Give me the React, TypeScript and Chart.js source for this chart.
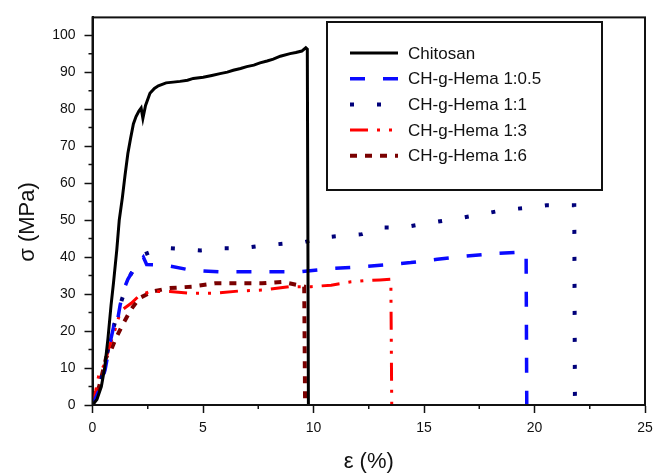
import React, { useEffect, useRef } from 'react';
import { Chart, registerables } from 'chart.js';

Chart.register(...registerables);

const seriesNames = ['Chitosan', 'CH-g-Hema 1:0.5', 'CH-g-Hema 1:1', 'CH-g-Hema 1:3', 'CH-g-Hema 1:6'];

const chitosanX = [0, 0.2, 0.4, 0.55, 0.7, 0.84, 0.95, 1.1, 1.21, 1.35, 1.47, 1.6, 1.72, 1.85, 1.97, 2.1, 2.2, 2.28, 2.4, 2.6, 2.8, 2.98, 3.33, 3.65, 3.96, 4.3, 4.56, 5.01, 5.4, 5.77, 6.1, 6.37, 6.7, 6.98, 7.3, 7.58, 7.9, 8.18, 8.5, 8.94, 9.2, 9.47, 9.65, 9.72, 9.77];
const chitosanY = [0, 1.5, 5, 10, 18, 27, 33, 42, 50, 56, 62, 68, 72, 76, 78, 79.5, 80.3, 77.5, 81, 84.3, 85.6, 86.3, 87.1, 87.3, 87.5, 87.8, 88.3, 88.6, 89.1, 89.6, 90.0, 90.5, 91.0, 91.5, 91.9, 92.5, 93.0, 93.5, 94.3, 95.0, 95.3, 95.7, 96.6, 96.2, 0];

const hema05X = [0, 0.3, 0.57, 0.8, 0.95, 1.05, 1.25, 1.4, 1.6, 1.85, 2.1, 2.3, 2.45, 3.3, 4.5, 5.7, 6.9, 8.1, 9.3, 10.8, 12.0, 13.3, 14.4, 15.6, 16.8, 18.1, 19.3, 19.62, 19.65];
const hema05Y = [0, 4, 9.5, 17, 21, 20, 27, 31, 34, 36.5, 38.5, 40, 38, 37.8, 36.4, 36, 36, 36, 36, 36.9, 37.3, 37.9, 38.5, 39.4, 40.2, 40.9, 41.3, 41.3, 0];

const hema1X = [0, 0.4, 0.7, 0.95, 1.3, 1.7, 2.0, 2.2, 3.1, 4.0, 4.9, 5.9, 6.8, 7.7, 8.6, 9.55, 10.45, 11.3, 12.2, 13.15, 14.05, 14.9, 15.85, 16.8, 17.7, 18.6, 19.6, 20.55, 21.5, 21.8, 21.83];
const hema1Y = [0, 7, 15, 21, 28, 35, 38, 40.4, 42.5, 42.2, 41.8, 42.4, 42.4, 43.1, 43.6, 44, 45.3, 45.8, 46.2, 48, 48, 48.9, 49.8, 50.7, 51.7, 52.7, 53.3, 54, 54, 54, 0];

const hema3X = [0, 0.15, 0.3, 0.55, 0.75, 1.0, 1.2, 1.4, 1.75, 2.1, 2.6, 3.5, 4.5, 5.5, 6.6, 7.7, 8.9, 9.9, 10.8, 11.7, 12.3, 13.0, 13.5, 13.54];
const hema3Y = [0, 4, 8.5, 11, 15.6, 20, 24, 26, 27.5, 29.5, 30.7, 30.7, 30.2, 30.2, 30.8, 31.1, 32, 32, 32.4, 33.3, 33.6, 33.8, 34, 0];

const hema6X = [0, 0.3, 0.62, 0.85, 1.07, 1.37, 1.74, 2.12, 2.72, 3.47, 4.5, 5.54, 6.62, 7.67, 8.57, 9.32, 9.58, 9.62];
const hema6Y = [0, 5, 12.9, 15, 18.2, 21.8, 25.8, 28.9, 30.7, 31.6, 32, 32.9, 32.9, 32.9, 33.3, 32.4, 32, 0];

const xTitle = 'ε (%)';
const yTitle = 'σ (MPa)';
const xMinorTicks = [2.5, 7.5, 12.5, 17.5, 22.5];
const yMinorTicks = [5, 15, 25, 35, 45, 55, 65, 75, 85, 95];

const FONT = "Arial, 'Liberation Sans', sans-serif";

const toPoints = (xs: number[], ys: number[]) => xs.map((x, i) => ({ x, y: ys[i] }));

const decorPlugin = {
  id: 'decor',
  afterDraw(chart: any) {
    const { ctx, chartArea, scales } = chart;
    const xs = scales.x;
    const ys = scales.y;
    ctx.save();
    // frame
    ctx.strokeStyle = '#111';
    ctx.lineWidth = 2;
    ctx.setLineDash([]);
    ctx.strokeRect(chartArea.left, chartArea.top, chartArea.right - chartArea.left, chartArea.bottom - chartArea.top);
    // minor ticks
    ctx.lineWidth = 1.5;
    ctx.beginPath();
    xMinorTicks.forEach((v) => {
      const p = xs.getPixelForValue(v);
      ctx.moveTo(p, chartArea.bottom);
      ctx.lineTo(p, chartArea.bottom + 4);
    });
    yMinorTicks.forEach((v) => {
      const p = ys.getPixelForValue(v);
      ctx.moveTo(chartArea.left - 4, p);
      ctx.lineTo(chartArea.left, p);
    });
    ctx.stroke();
    // y title
    ctx.fillStyle = '#111';
    ctx.font = `22px ${FONT}`;
    ctx.textAlign = 'center';
    ctx.textBaseline = 'middle';
    ctx.translate(28, 222);
    ctx.rotate(-Math.PI / 2);
    ctx.fillText(yTitle, 0, 0);
    ctx.restore();

    // legend
    ctx.save();
    const bx = 327, by = 22, bw = 275, bh = 168;
    ctx.fillStyle = '#fff';
    ctx.fillRect(bx, by, bw, bh);
    ctx.strokeStyle = '#111';
    ctx.lineWidth = 2;
    ctx.strokeRect(bx, by, bw, bh);
    ctx.font = `17px ${FONT}`;
    ctx.textAlign = 'left';
    ctx.textBaseline = 'middle';
    chart.data.datasets.forEach((ds: any, i: number) => {
      const y = 53 + i * 25.7;
      ctx.strokeStyle = ds.borderColor;
      ctx.lineWidth = ds.borderWidth;
      ctx.setLineDash(ds.borderDash || []);
      ctx.lineCap = 'butt';
      ctx.beginPath();
      ctx.moveTo(350, y);
      ctx.lineTo(398, y);
      ctx.stroke();
      ctx.setLineDash([]);
      ctx.fillStyle = '#111';
      ctx.fillText(ds.label, 408, y + 1);
    });
    ctx.restore();
  },
};

export default function App() {
  const ref = useRef<HTMLCanvasElement>(null);
  useEffect(() => {
    document.body.style.margin = '0';
    const canvas = ref.current!;
    const chart = new Chart(canvas, {
      type: 'line',
      data: {
        datasets: [
          { label: seriesNames[0], data: toPoints(chitosanX, chitosanY), borderColor: '#000000', borderWidth: 3, borderDash: [] },
          { label: seriesNames[1], data: toPoints(hema05X, hema05Y), borderColor: '#0a0aff', borderWidth: 3.5, borderDash: [15, 18] },
          { label: seriesNames[2], data: toPoints(hema1X, hema1Y), borderColor: '#00007a', borderWidth: 4, borderDash: [4, 23] },
          { label: seriesNames[3], data: toPoints(hema3X, hema3Y), borderColor: '#ff0000', borderWidth: 3, borderDash: [18, 9, 3, 9, 3, 9] },
          { label: seriesNames[4], data: toPoints(hema6X, hema6Y), borderColor: '#7a0000', borderWidth: 4, borderDash: [7, 8] },
        ] as any,
      },
      options: {
        animation: false,
        responsive: false,
        parsing: true,
        elements: { point: { radius: 0 }, line: { tension: 0, borderCapStyle: 'butt' } },
        layout: { padding: { top: 12, right: 17, left: 0, bottom: 0 } },
        plugins: { legend: { display: false }, tooltip: { enabled: false } },
        scales: {
          x: {
            type: 'linear',
            min: 0,
            max: 25,
            afterFit: (s: any) => { s.height = 69; },
            ticks: { stepSize: 5, color: '#111', font: { family: FONT, size: 14 }, padding: 7, maxRotation: 0 },
            grid: { display: true, drawOnChartArea: false, drawTicks: true, tickLength: 8, color: '#111', tickWidth: 1.5 } as any,
            border: { display: true, color: '#111', width: 2 },
            title: { display: true, text: xTitle, color: '#111', font: { family: FONT, size: 22, lineHeight: 1.1 }, padding: 0 },
          },
          y: {
            type: 'linear',
            min: 0,
            max: 104.8,
            afterFit: (s: any) => { s.width = 92.5; },
            ticks: { stepSize: 10, includeBounds: false, color: '#111', font: { family: FONT, size: 14 }, padding: 9 },
            grid: { display: true, drawOnChartArea: false, drawTicks: true, tickLength: 8, color: '#111', tickWidth: 1.5 } as any,
            border: { display: true, color: '#111', width: 2 },
          },
        },
      } as any,
      plugins: [decorPlugin],
    });
    return () => chart.destroy();
  }, []);
  return <canvas ref={ref} width={662} height={474} style={{ display: 'block' }} />;
}
